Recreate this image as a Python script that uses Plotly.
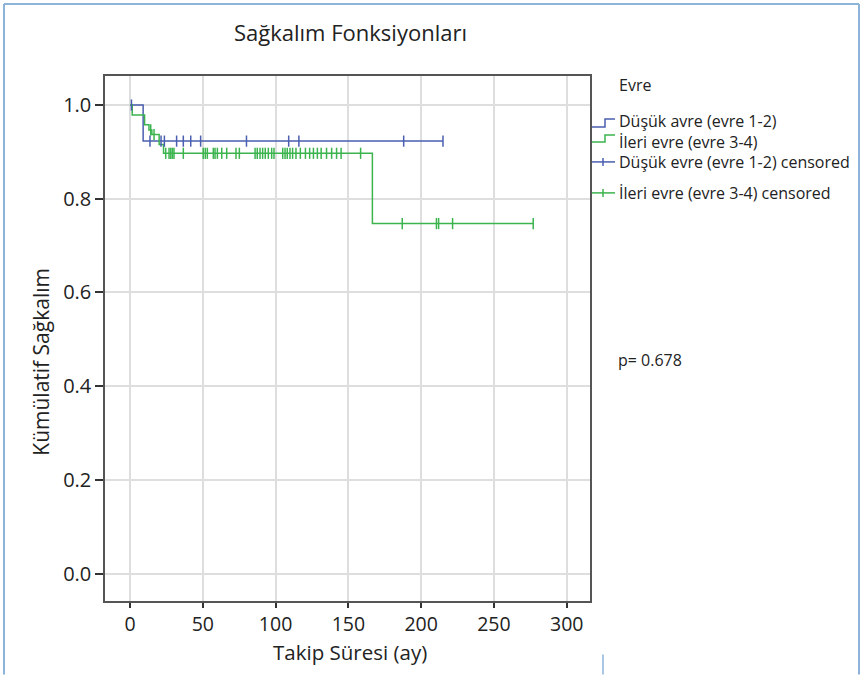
import numpy as np
import plotly.graph_objects as go

# ---- data ----
blue_event_t = [0, 9]
blue_event_s = [1.0, 0.923]
blue_end_t = 215
blue_cens_t = [1, 13.7, 21.3, 23.6, 32, 36.6, 41.7, 48.5, 80, 109, 116, 188, 215]

green_event_t = [0, 1.5, 10, 13, 15, 20, 23, 166.5]
green_event_s = [1.0, 0.979, 0.958, 0.947, 0.937, 0.916, 0.897, 0.747]
green_end_t = 277
green_cens_t = [14.2, 16.5, 24.5, 26.8, 28, 29.1, 30.2, 36.6, 50.3, 51.7, 53.1, 57.2, 58.4, 60,
                63, 66.4, 72.8, 75.1, 85.9, 87.4, 89.3, 91.1, 92.9, 95, 97.3, 98.9,
                104.9, 106.5, 108, 109.9, 111.7, 114, 117, 120.5, 123.4, 126, 128.7,
                131.3, 135, 138.5, 141.9, 145, 158.4, 187, 210.5, 212, 221.6, 277]

x_ticks = [0, 50, 100, 150, 200, 250, 300]
y_ticks = [0.0, 0.2, 0.4, 0.6, 0.8, 1.0]

names = ["Düşük avre (evre 1-2)", "İleri evre (evre 3-4)",
         "Düşük evre (evre 1-2) censored", "İleri evre (evre 3-4) censored"]
BLUE = "#4a5fb0"
GREEN = "#3cb44e"


def step_at(ts, ev_t, ev_s):
    idx = np.searchsorted(np.array(ev_t), np.array(ts), side="right") - 1
    return list(np.array(ev_s)[idx])


fig = go.Figure()
fig.add_trace(go.Scatter(x=blue_event_t + [blue_end_t], y=blue_event_s + [blue_event_s[-1]],
                         mode="lines", line=dict(color=BLUE, width=1.5, shape="hv"),
                         name=names[0], hoverinfo="skip"))
fig.add_trace(go.Scatter(x=green_event_t + [green_end_t], y=green_event_s + [green_event_s[-1]],
                         mode="lines", line=dict(color=GREEN, width=1.5, shape="hv"),
                         name=names[1], hoverinfo="skip"))
fig.add_trace(go.Scatter(x=blue_cens_t, y=step_at(blue_cens_t, blue_event_t, blue_event_s),
                         mode="markers", name=names[2],
                         marker=dict(symbol="line-ns", size=8, line=dict(color=BLUE, width=1.5))))
fig.add_trace(go.Scatter(x=green_cens_t, y=step_at(green_cens_t, green_event_t, green_event_s),
                         mode="markers", name=names[3],
                         marker=dict(symbol="line-ns", size=8, line=dict(color=GREEN, width=1.5))))

W, H = 862, 675
L, R, T, B = 105, 590, 76, 601.5


def px(x):
    return (x - L) / (R - L)


def py(y):
    return (B - y) / (B - T)


FONT = "Open Sans"
TXT = "#222222"

shapes = []
# outer light-blue frame
shapes.append(dict(type="line", xref="paper", yref="paper", x0=px(4), x1=px(4), y0=py(675), y1=py(4),
                   line=dict(color="#8db3d9", width=2)))
shapes.append(dict(type="line", xref="paper", yref="paper", x0=px(4), x1=px(859), y0=py(4), y1=py(4),
                   line=dict(color="#8db3d9", width=2)))
shapes.append(dict(type="line", xref="paper", yref="paper", x0=px(859), x1=px(859), y0=py(4), y1=py(675),
                   line=dict(color="#8db3d9", width=2)))
shapes.append(dict(type="line", xref="paper", yref="paper", x0=px(603), x1=px(603), y0=py(655), y1=py(675),
                   line=dict(color="#8db3d9", width=1.5)))


# legend icons
def step_icon(ylow, yhigh, color):
    return dict(type="path", xref="paper", yref="paper",
                path=f"M {px(592)} {py(ylow)} L {px(605)} {py(ylow)} L {px(605)} {py(yhigh)} L {px(615)} {py(yhigh)}",
                line=dict(color=color, width=1.5))


shapes.append(step_icon(127, 119, BLUE))
shapes.append(step_icon(142, 135, GREEN))
for yy, c in [(162, BLUE), (193, GREEN)]:
    shapes.append(dict(type="line", xref="paper", yref="paper", x0=px(592), x1=px(615), y0=py(yy), y1=py(yy),
                       line=dict(color=c, width=1.5)))
    shapes.append(dict(type="line", xref="paper", yref="paper", x0=px(603), x1=px(603), y0=py(yy - 4), y1=py(yy + 4),
                       line=dict(color=c, width=1.5)))

LEG = 16
annotations = []
annotations.append(dict(text="Evre", x=px(617), y=py(85), xref="paper", yref="paper", showarrow=False,
                        xanchor="left", yanchor="middle", font=dict(family=FONT, size=LEG, color=TXT)))
annotations.append(dict(text=names[0] + "<br>" + names[1], x=px(617), y=py(131.5), xref="paper", yref="paper",
                        showarrow=False, xanchor="left", yanchor="middle", align="left",
                        font=dict(family=FONT, size=LEG, color=TXT)))
for nm, yy in zip(names[2:], [162, 193]):
    annotations.append(dict(text=nm, x=px(617), y=py(yy), xref="paper", yref="paper", showarrow=False,
                            xanchor="left", yanchor="middle", font=dict(family=FONT, size=LEG, color=TXT)))
annotations.append(dict(text="p= 0.678", x=px(616), y=py(360), xref="paper", yref="paper", showarrow=False,
                        xanchor="left", yanchor="middle", font=dict(family=FONT, size=LEG, color=TXT)))
annotations.append(dict(text="Sağkalım Fonksiyonları", x=px(350), y=py(32), xref="paper", yref="paper",
                        showarrow=False, xanchor="center", yanchor="middle",
                        font=dict(family=FONT, size=22, color=TXT)))
# axis titles
annotations.append(dict(text="Takip Süresi (ay)", x=px(350), y=py(653), xref="paper", yref="paper",
                        showarrow=False, xanchor="center", yanchor="middle",
                        font=dict(family=FONT, size=20.5, color=TXT)))
annotations.append(dict(text="Kümülatif Sağkalım", x=px(41), y=py(362), xref="paper", yref="paper",
                        showarrow=False, xanchor="center", yanchor="middle", textangle=-90,
                        font=dict(family=FONT, size=21, color=TXT)))

fig.update_layout(
    width=W, height=H,
    margin=dict(l=L, r=W - R, t=T, b=H - B),
    paper_bgcolor="white", plot_bgcolor="white",
    showlegend=False,
    shapes=shapes, annotations=annotations,
    font=dict(family=FONT, color=TXT),
)
fig.update_xaxes(range=[-17.2, 316], tickvals=x_ticks, ticks="outside", ticklen=5, tickwidth=1.5,
                 tickcolor="#333", showline=True, linecolor="#555", linewidth=1.5, mirror=True,
                 showgrid=True, gridcolor="#dedede", gridwidth=1.5, zeroline=False,
                 tickfont=dict(family=FONT, size=19.5, color=TXT))
fig.update_yaxes(range=[-0.0586, 1.062], tickvals=y_ticks, tickformat=".1f", ticks="outside", ticklen=8,
                 tickwidth=1.5, tickcolor="#333", showline=True, linecolor="#555", linewidth=1.5, mirror=True,
                 showgrid=True, gridcolor="#dedede", gridwidth=1.5, zeroline=False,
                 tickfont=dict(family=FONT, size=20, color=TXT))

fig.write_html("out.html")
